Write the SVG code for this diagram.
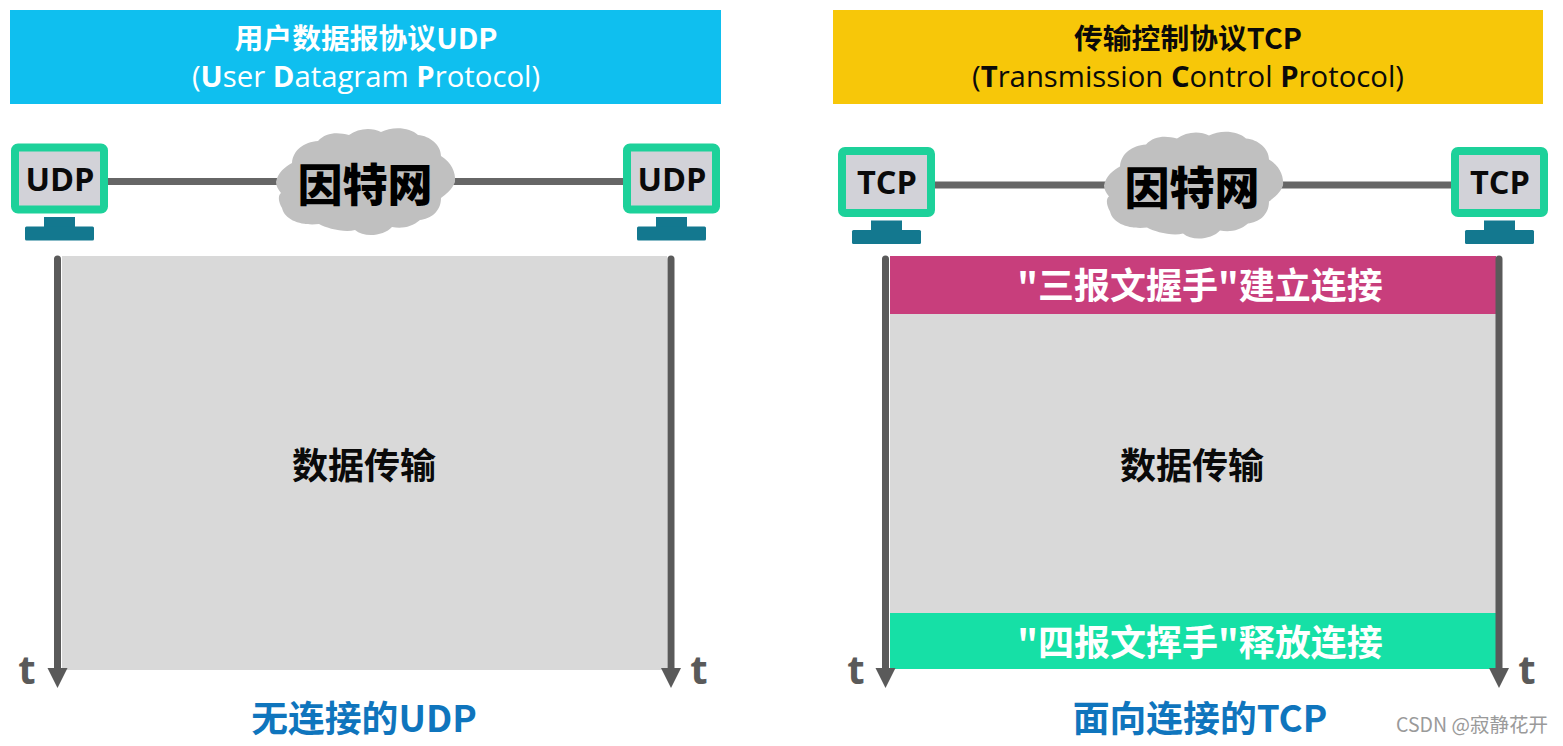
<svg xmlns="http://www.w3.org/2000/svg" xmlns:xlink="http://www.w3.org/1999/xlink" width="1563" height="746" viewBox="0 0 1563 746">
<style>
text{font-family:"Noto Sans CJK SC","Open Sans",sans-serif;text-anchor:middle}
.lat{font-family:"Open Sans","Noto Sans CJK SC",sans-serif}
.title{font-size:28.800px;font-weight:700}
.sub{font-size:29.300px;font-weight:400}
.sub tspan{font-weight:700}
.w{fill:#fff}
.k{fill:#0a0a0a}
.mon{font-family:"Open Sans",sans-serif;font-size:32.500px;font-weight:700;fill:#0a0a0a}
.net{font-size:45px;font-weight:900;fill:#000}
.data{font-size:36px;font-weight:700;fill:#0a0a0a}
.band{font-size:36px;font-weight:700;fill:#fff}
.cap{font-size:36.800px;font-weight:700;fill:#0f75bd}
.t{font-family:"Open Sans",sans-serif;font-size:40px;font-weight:700;fill:#5a5a5a}
.link{stroke:#666;stroke-width:7;fill:none}
.screen{fill:#d2d2d8;stroke:#1dd19a;stroke-width:8}
</style>
<defs>
<path id="cloud" fill="#c0c0c0" d="M276 182C278 172 285 167 292 163C293 150 304 142 318 141C326 132 338 132 349 135C358 128 372 127 381 132C392 126 410 127 418 135C430 136 441 145 441 156C451 162 456 172 455 182C452 190 446 194 441 198C441 212 430 219 420 220C412 227 402 229 392 227C384 236 364 238 355 230C344 233 326 228 319 224C303 226 285 221 282 208C278 201 278 195 281 193C278 189 276 186 276 182Z"/>
<g id="pc"><rect class="screen" x="15" y="147.500" width="89" height="62" rx="3"/><rect x="44" y="217" width="31" height="12" fill="#13788f"/><rect x="25" y="226.500" width="69" height="14" rx="1.500" fill="#13788f"/></g>
</defs>

<g id="connectors">
<path class="link" d="M108 181.500H280M450 181.500H624"/>
<path class="link" d="M935 185H1108M1278 185H1452"/>
</g>

<g id="udp-header"><rect x="10" y="10" width="711" height="94" fill="#0fbfef"/>
<text class="title w" x="366" y="49">用户数据报协议UDP</text>
<text class="sub lat w" x="366" y="87">(<tspan>U</tspan>ser <tspan>D</tspan>atagram <tspan>P</tspan>rotocol)</text></g>

<g id="tcp-header"><rect x="833" y="10" width="710" height="94" fill="#f7c709"/>
<text class="title k" x="1188" y="49">传输控制协议TCP</text>
<text class="sub lat k" x="1188" y="87">(<tspan>T</tspan>ransmission <tspan>C</tspan>ontrol <tspan>P</tspan>rotocol)</text></g>

<g id="udp-host-a"><use xlink:href="#pc" href="#pc"/><text class="mon" x="60" y="191">UDP</text></g>
<g id="udp-host-b"><use xlink:href="#pc" href="#pc" x="612"/><text class="mon" x="672" y="191">UDP</text></g>
<g id="tcp-host-a"><use xlink:href="#pc" href="#pc" x="827" y="3.500"/><text class="mon" x="887" y="194">TCP</text></g>
<g id="tcp-host-b"><use xlink:href="#pc" href="#pc" x="1440" y="3.500"/><text class="mon" x="1500" y="194">TCP</text></g>

<g id="udp-cloud"><use xlink:href="#cloud" href="#cloud"/><text class="net" x="365" y="202">因特网</text></g>
<g id="tcp-cloud"><use xlink:href="#cloud" href="#cloud" x="828" y="3.500"/><text class="net" x="1192" y="205">因特网</text></g>

<g id="udp-body"><rect x="62" y="256" width="605" height="414" fill="#d9d9d9"/><text class="data" x="364" y="479">数据传输</text></g>
<g id="tcp-body"><rect x="890" y="314" width="606" height="299" fill="#d9d9d9"/><text class="data" x="1192" y="479">数据传输</text></g>
<g id="tcp-open"><rect x="890" y="256" width="606" height="58" fill="#c83e7c"/><text class="band" x="1200" y="299">"三报文握手"建立连接</text></g>
<g id="tcp-close"><rect x="890" y="613" width="606" height="56" fill="#16e0a6"/><text class="band" x="1200" y="656">"四报文挥手"释放连接</text></g>

<g id="axes">
<path d="M57.500 259V670M671 259V670M885.500 259V670M1499 259V670" stroke="#5a5a5a" stroke-width="7" stroke-linecap="round" fill="none"/>
<path d="M47.500 668H67.500L57.500 688ZM661 668H681L671 688ZM875.500 668H895.500L885.500 688ZM1489 668H1509L1499 688Z" fill="#5a5a5a"/>
<text class="t" x="27" y="684">t</text>
<text class="t" x="699" y="684">t</text>
<text class="t" x="856" y="684">t</text>
<text class="t" x="1527" y="684">t</text>
</g>

<g id="captions">
<text class="cap" x="364" y="732">无连接的UDP</text>
<text class="cap" x="1200" y="732">面向连接的TCP</text>
<text x="1472" y="732" style="font-size:19.500px;fill:#9a9a9a">CSDN @寂静花开</text>
</g>
</svg>
